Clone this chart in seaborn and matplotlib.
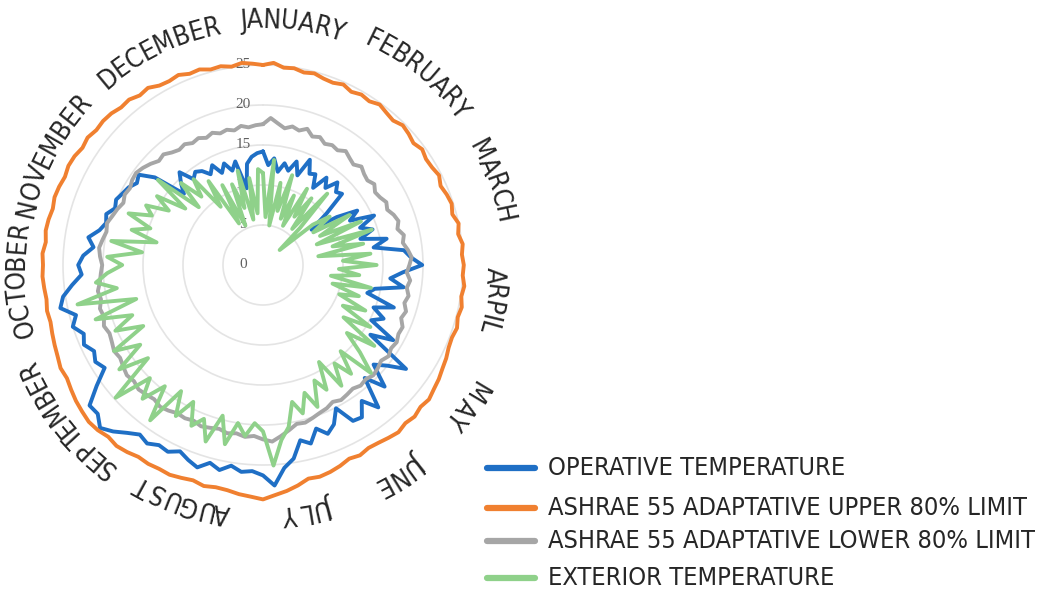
import numpy as np
import pandas as pd
import matplotlib
matplotlib.use("Agg")
import matplotlib.pyplot as plt
import seaborn as sns
from matplotlib.lines import Line2D
from matplotlib.textpath import TextToPath
from matplotlib.font_manager import FontProperties, fontManager

#%% data: one value every 3 days, starting 1 January, clockwise from the top
operative = [
    14.2, 12.5, 13.4, 11.8, 13.0, 12.2, 13.6, 12.0, 14.4, 12.8,
    13.1, 11.5, 13.5, 12.4, 13.9, 12.9, 13.3, 10.2, 7.5, 11.0,
    13.6, 12.2, 15.2, 13.0, 14.4, 12.6, 15.8, 14.0, 17.7, 18.5,
    19.9, 17.5, 16.0, 17.8, 14.3, 13.5, 17.2, 14.8, 16.5, 15.2,
    18.8, 16.0, 22.1, 20.0, 18.6, 21.5, 19.0, 22.9, 21.0, 22.7,
    22.5, 20.1, 21.8, 22.6, 21.5, 23.1, 22.4, 24.5, 25.5, 27.6,
    26.3, 25.8, 26.0, 25.4, 26.2, 25.6, 26.6, 26.1, 25.5, 26.2,
    26.0, 26.6, 26.2, 27.0, 28.0, 28.8, 27.8, 27.9, 25.7, 23.6,
    24.2, 23.7, 24.5, 24.0, 25.0, 24.2, 25.9, 25.3, 24.0, 22.7,
    23.1, 22.5, 21.3, 22.1, 20.9, 20.3, 20.6, 19.8, 20.1, 19.7,
    19.4, 18.8, 19.2, 17.4, 13.3, 14.5, 15.6, 13.8, 14.4, 14.0,
    13.1, 14.0, 12.6, 13.6, 12.4, 13.4, 9.8, 12.8, 13.6, 14.0,
]
upper_limit = [
    25.0, 25.3, 24.8, 24.9, 24.6, 24.8, 24.5, 24.4, 24.7, 24.3,
    24.6, 24.4, 24.8, 24.5, 24.3, 24.7, 24.5, 24.2, 24.6, 24.3,
    24.4, 24.7, 24.3, 24.6, 24.8, 24.5, 25.0, 24.7, 25.1, 24.9,
    25.1, 25.0, 25.3, 25.1, 25.4, 25.2, 25.5, 25.3, 25.4, 25.7,
    25.9, 26.2, 26.4, 26.7, 26.5, 26.8, 26.6, 26.9, 26.7, 26.5,
    26.4, 26.7, 26.5, 26.9, 27.2, 27.4, 27.3, 27.9, 28.4, 28.8,
    29.3, 29.0, 28.8, 28.5, 28.4, 28.6, 28.3, 28.5, 28.7, 28.6,
    28.7, 28.6, 28.9, 29.1, 28.9, 29.2, 29.3, 29.1, 28.9, 28.6,
    28.3, 28.4, 28.1, 27.9, 27.7, 27.5, 27.6, 27.4, 27.5, 27.6,
    27.5, 27.6, 27.3, 27.5, 27.4, 27.2, 27.4, 27.3, 27.1, 27.3,
    27.2, 26.9, 27.1, 26.8, 26.9, 26.8, 26.5, 26.6, 26.2, 26.4,
    25.9, 25.8, 26.0, 25.6, 25.7, 25.3, 25.4, 25.1, 25.4, 25.2,
]
lower_limit = [
    17.6, 18.4, 17.8, 17.3, 17.7, 17.4, 17.9, 17.2, 17.5, 17.0,
    17.3, 17.1, 17.6, 17.2, 16.9, 17.4, 17.0, 16.8, 17.2, 16.7,
    16.9, 17.3, 17.0, 17.5, 17.8, 17.4, 18.0, 17.7, 18.2, 18.6,
    18.3, 18.0, 18.5, 18.2, 18.6, 18.3, 18.8, 18.5, 19.1, 19.0,
    19.3, 19.1, 19.4, 19.0, 19.3, 19.5, 19.2, 19.4, 19.1, 19.3,
    19.5, 19.2, 19.6, 19.8, 20.1, 20.4, 20.3, 20.9, 21.5, 22.1,
    21.8, 21.4, 21.6, 21.3, 21.5, 21.2, 21.4, 21.6, 21.3, 21.5,
    21.4, 21.7, 21.9, 21.6, 21.8, 22.0, 21.7, 21.9, 21.6, 21.3,
    21.5, 21.2, 21.0, 21.3, 20.9, 21.1, 20.7, 20.9, 20.5, 20.3,
    20.1, 20.4, 20.6, 20.3, 20.0, 20.2, 19.8, 19.5, 19.1, 19.4,
    19.2, 19.5, 19.6, 19.3, 18.9, 18.4, 18.6, 18.1, 17.8, 18.0,
    17.6, 17.8, 17.4, 17.7, 17.3, 17.5, 17.2, 17.6, 17.3, 17.5,
]
exterior = [
    11.5, 6.0, 13.2, 5.0, 10.5, 7.0, 11.8, 6.2, 9.5, 5.5,
    11.0, 7.2, 10.3, 5.8, 12.0, 6.5, 2.8, 8.0, 10.3, 7.5,
    12.5, 8.0, 13.4, 7.2, 14.3, 9.0, 12.8, 7.0, 13.5, 10.0,
    14.2, 9.5, 12.1, 8.6, 13.8, 9.0, 12.6, 10.2, 14.0, 11.2,
    15.5, 12.0, 17.2, 13.5, 16.3, 19.1, 14.5, 17.5, 15.2, 18.0,
    14.0, 17.5, 15.8, 19.0, 16.8, 19.2, 17.5, 20.5, 22.0, 25.1,
    20.8, 19.8, 21.5, 20.0, 22.9, 19.5, 23.2, 20.6, 22.0, 19.2,
    21.8, 18.8, 24.0, 19.5, 22.5, 20.0, 24.8, 18.5, 22.2, 18.3,
    21.5, 16.8, 20.2, 17.5, 22.0, 16.4, 23.7, 18.5, 21.0, 19.5,
    17.6, 19.5, 15.2, 19.2, 13.6, 17.0, 14.8, 18.0, 15.2, 16.4,
    13.6, 15.8, 12.0, 16.9, 10.8, 14.5, 11.5, 13.8, 9.0, 12.5,
    6.0, 11.2, 5.4, 10.8, 7.5, 12.2, 5.8, 11.0, 6.5, 12.0,
]
series_names = ["OPERATIVE TEMPERATURE",
                "ASHRAE 55 ADAPTATIVE UPPER 80% LIMIT",
                "ASHRAE 55 ADAPTATIVE LOWER 80% LIMIT",
                "EXTERIOR TEMPERATURE"]
months = ["JANUARY", "FEBRUARY", "MARCH", "ARPIL", "MAY", "JUNE",
          "JULY", "AUGUST", "SEPTEMBER", "OCTOBER", "NOVEMBER", "DECEMBER"]
ring_ticks = [0, 5, 10, 15, 20, 25]

#%% layout
colors = ["#1f6fc5", "#f08030", "#a6a6a6", "#8fd18a"]
month_angle = [7, 39, 70, 99, 124.5, 147, 169.5, 199, 232, 266.5, 297.5, 334]   # deg, clockwise
month_radius = [244, 250, 245, 231, 246, 249, 249, 250, 255, 246, 242, 242]     # px
px_per_unit = 8.0

# narrow sans for the labels
if any(f.name == "DejaVu Sans" and f.stretch == "condensed" for f in fontManager.ttflist):
    label_font = dict(family="DejaVu Sans", stretch="condensed")
    month_size, legend_size = 19, 18.2
else:
    label_font = dict(family="Liberation Sans")
    month_size, legend_size = 17, 16.8

# long table for seaborn, loop closed back to 1 January
days = np.arange(len(operative)) * 365 / len(operative)
rows = []
for name, vals in zip(series_names, [operative, upper_limit, lower_limit, exterior]):
    th = np.append(days, 365) / 365 * 2 * np.pi
    v = np.append(vals, vals[0])
    rows.append(pd.DataFrame({"theta": th, "value": v, "series": name}))
df = pd.concat(rows, ignore_index=True)

sns.set_theme(style="white")
plt.rcParams['font.family'] = ['DejaVu Sans']

fig = plt.figure(figsize=(10.55, 5.9), dpi=100)
ax = fig.add_axes([23 / 1055, 85 / 590, 480 / 1055, 480 / 590], projection="polar")
ax.set_theta_zero_location("N")
ax.set_theta_direction(-1)

sns.lineplot(data=df, x="theta", y="value", hue="series", hue_order=series_names,
             palette=colors, sort=False, estimator=None, linewidth=2.8,
             legend=False, ax=ax, zorder=3)

ax.set_ylim(0, 30)
ax.set_yticks(ring_ticks)
ax.set_yticklabels([])
ax.set_xticks([])
ax.set_xlabel("")
ax.set_ylabel("")
ax.spines["polar"].set_visible(False)
ax.yaxis.grid(True, color="#e4e4e4", linewidth=1.2)
ax.xaxis.grid(False)

for v in ring_ticks:
    ax.annotate(str(v), xy=(0, v), xytext=(-20, 0), textcoords="offset pixels",
                ha="center", va="center", fontsize=11, color="#606060",
                family=["Liberation Serif"], zorder=2)

# curved month labels, letters standing on the circle
month_prop = FontProperties(size=month_size, **label_font)
ttp = TextToPath()
for name, ang, rad in zip(months, month_angle, month_radius):
    widths = [ttp.get_text_width_height_descent(c, month_prop, ismath=False)[0] * 100 / 72
              for c in name]
    total = sum(widths)
    start = np.deg2rad(ang) - total / (2 * rad)
    pos = 0.0
    for c, w in zip(name, widths):
        th = start + (pos + w / 2) / rad
        ax.text(th, rad / px_per_unit, c, rotation=-np.rad2deg(th), rotation_mode="anchor",
                ha="center", va="center", fontproperties=month_prop, color="#262626",
                clip_on=False)
        pos += w

# legend
leg_prop = FontProperties(size=legend_size, **label_font)
leg_y = [468, 508, 541, 578]
for name, col, y in zip(series_names, colors, leg_y):
    fig.add_artist(Line2D([487 / 1055, 535 / 1055], [1 - y / 590, 1 - y / 590],
                          color=col, linewidth=4.5, solid_capstyle="round"))
    fig.text(548 / 1055, 1 - y / 590, name, ha="left", va="center",
             fontproperties=leg_prop, color="#262626")

fig.savefig("out.png", dpi=100)
